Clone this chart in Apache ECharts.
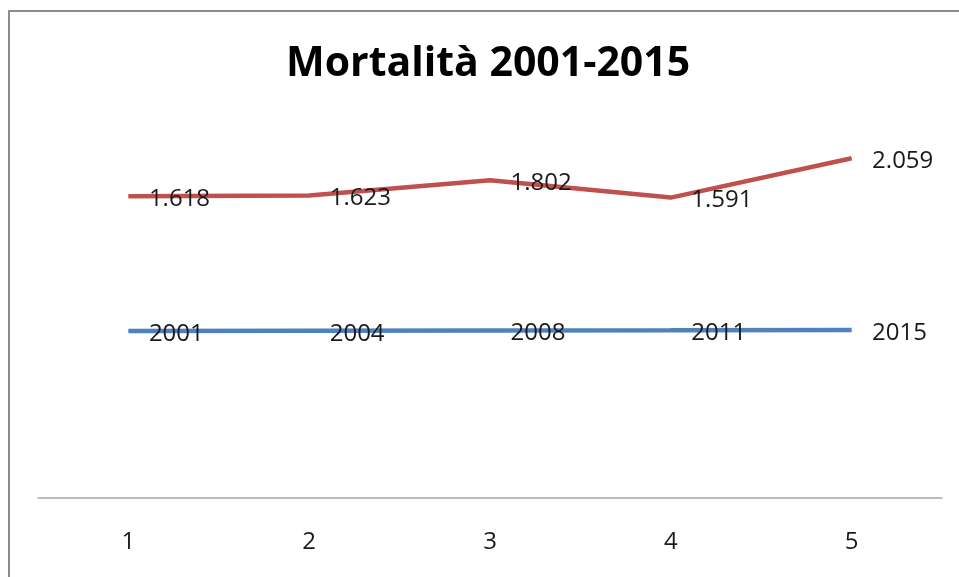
<!DOCTYPE html>
<html>
<head>
<meta charset="utf-8">
<script src="https://cdn.jsdelivr.net/npm/echarts@6/dist/echarts.min.js"></script>
<style>
html, body { margin: 0; padding: 0; background: #fff; }
#chart { width: 959px; height: 577px; }
</style>
</head>
<body>
<div id="chart"></div>
<script>
// dati
var categorie = ['1', '2', '3', '4', '5'];
var anni = [2001, 2004, 2008, 2011, 2015];
var mortalita = [1618, 1623, 1802, 1591, 2059];

var myChart = echarts.init(document.getElementById('chart'));

function fmt(v) {
    return String(v).replace(/\B(?=(\d{3})+(?!\d))/g, '.');
}

var etichetta = {
    show: true,
    position: 'right',
    distance: 20,
    offset: [0, 3],
    color: '#1a1a1a',
    fontFamily: 'Open Sans',
    fontSize: 24
};

myChart.setOption({
    animation: false,
    title: {
        text: 'Mortalità 2001-2015',
        left: 281,
        top: 39,
        textStyle: {
            fontFamily: 'Open Sans',
            fontWeight: 'bold',
            fontSize: 41,
            color: '#000'
        }
    },
    graphic: [{
        type: 'rect',
        shape: { x: 9, y: 11, width: 980, height: 600 },
        style: { fill: 'none', stroke: '#8c8c8c', lineWidth: 2 },
        silent: true
    }],
    grid: { left: 38, right: 17, top: 81, bottom: 79 },
    xAxis: {
        type: 'category',
        data: categorie,
        boundaryGap: true,
        axisLine: { lineStyle: { color: '#a6a6a6', width: 1.5 } },
        axisTick: { show: false },
        axisLabel: {
            margin: 32,
            color: '#1a1a1a',
            fontFamily: 'Open Sans',
            fontSize: 24
        }
    },
    yAxis: {
        type: 'value',
        min: 0,
        max: 5000,
        show: false,
        splitLine: { show: false }
    },
    series: [
        {
            name: 'Anno',
            type: 'line',
            stack: 'tot',
            data: anni,
            symbol: 'circle',
            symbolSize: 1,
            itemStyle: { color: '#4F81BD' },
            lineStyle: { color: '#4F81BD', width: 4.5 },
            label: Object.assign({}, etichetta, { formatter: function (p) { return p.value; } })
        },
        {
            name: 'Mortalità',
            type: 'line',
            stack: 'tot',
            data: mortalita,
            symbol: 'circle',
            symbolSize: 1,
            itemStyle: { color: '#C0504D' },
            lineStyle: { color: '#C0504D', width: 4.5 },
            label: Object.assign({}, etichetta, { formatter: function (p) { return fmt(p.value); } })
        }
    ]
});
</script>
</body>
</html>
